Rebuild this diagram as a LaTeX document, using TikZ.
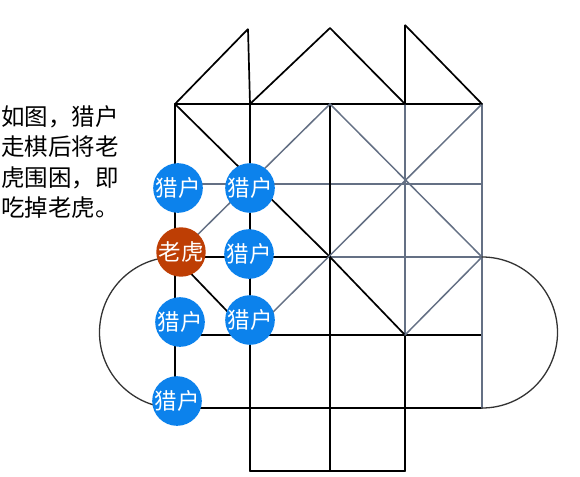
\documentclass[tikz,border=0pt]{standalone}
\usepackage{fontspec}
\newfontfamily\cjk{Noto Sans CJK SC}
\usetikzlibrary{calc}
\definecolor{hunterblue}{RGB}{12,130,236}
\definecolor{tigerred}{RGB}{190,62,4}
\definecolor{faintline}{RGB}{100,112,132}
\tikzstyle{line}=[draw, line width=1.7pt, black, line cap=round]
\tikzstyle{faint}=[draw, line width=1.5pt, faintline, line cap=round]
\tikzstyle{hunter}=[circle, fill=hunterblue, text=white, minimum size=48pt, inner sep=0pt, font=\cjk\fontsize{22.5}{22.5}\selectfont]
\tikzstyle{tiger}=[hunter, fill=tigerred]

\begin{document}
\begin{tikzpicture}[x=1pt, y=-1pt, line join=bevel]
	\useasboundingbox (0,0) rectangle (580,476);
	% grid points
	\foreach \x [count=\i] in {175,250,330,405,482}
		\foreach \y [count=\j] in {104,184,257,335,408,471}
			\coordinate (g\i\j) at (\x,\y);
	\coordinate (peak1) at (248,29);
	\coordinate (peak2) at (330,28);
	\coordinate (peak3) at (405,25);
	
	% rows
	\draw[line] (g11) -- (g51);
	\draw[faint] (g12) -- (g52);
	\draw[line] (g13) -- (g33);
	\draw[faint] (g33) -- (g53);
	\draw[line] (g14) -- (g54);
	\draw[line] (g15) -- (g55);
	\draw[line] (g26) -- (g46);
	
	% columns
	\draw[line] (g11) -- (g15);
	\draw[line] (g21) -- (g26);
	\draw[line] (g31) -- (g36);
	\draw[faint] (g41) -- (g44);
	\draw[line] (g44) -- (g46);
	\draw[faint] (g51) -- (g55);
	
	% diagonals
	\draw[line] (g11) -- (g33);
	\draw[line] (g33) -- (g44);
	\draw[faint] (g31) -- (g13);
	\draw[line] (g13) -- (g24);
	\draw[faint] (g24) -- (g51);
	\draw[faint] (g31) -- (g53);
	\draw[faint] (g53) -- (g44);
	
	% roofs
	\draw[line] (g11) -- (peak1) -- (g21);
	\draw[line] (g21) -- (peak2) -- (g41);
	\draw[line] (g41) -- (peak3) -- (g51);
	
	% side arcs
	\draw[line, line width=1.3pt, black!80] (g13) arc[start angle=90, end angle=270, radius=75.5pt];
	\draw[line, line width=1.3pt, black!80] (g53) arc[start angle=90, end angle=-90, radius=75.5pt];
	
	% pieces
	\node[hunter] (hunterA) at (178,188) {猎户};
	\node[hunter] (hunterB) at (250,188) {猎户};
	\node[tiger] (tiger) at (181,252) {老虎};
	\node[hunter] (hunterC) at (249,254) {猎户};
	\node[hunter] (hunterD) at (180,322) {猎户};
	\node[hunter] (hunterE) at (250,320) {猎户};
	\node[hunter] (hunterF) at (177,401) {猎户};
	
	% caption
	\node[anchor=north west, align=left, inner sep=0pt, font=\cjk\fontsize{23.5}{30.5}\selectfont] (note) at (1,105) {如图，猎户\\走棋后将老\\虎围困，即\\吃掉老虎。};
\end{tikzpicture}
\end{document}
